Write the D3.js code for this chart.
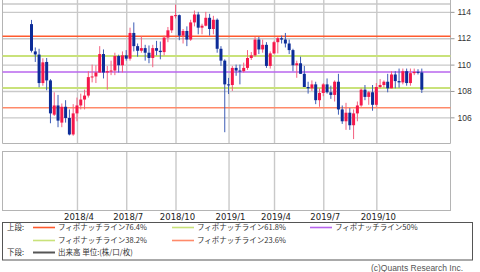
<!DOCTYPE html>
<html>
<head>
<meta charset="utf-8">
<script src="https://cdn.jsdelivr.net/npm/d3@7"></script>
<style>
  body { margin: 0; background: #fff; }
  svg { display: block; font-family: "Liberation Sans", Arial, sans-serif; }
</style>
</head>
<body>
<div id="chart"></div>
<script>
// weekly candles (week starting monday)
const weeks = [
  "2018-01-08","2018-01-15","2018-01-22","2018-01-29","2018-02-05","2018-02-12","2018-02-19","2018-02-26",
  "2018-03-05","2018-03-12","2018-03-19","2018-03-26","2018-04-02","2018-04-09","2018-04-16","2018-04-23",
  "2018-04-30","2018-05-07","2018-05-14","2018-05-21","2018-05-28","2018-06-04","2018-06-11","2018-06-18",
  "2018-06-25","2018-07-02","2018-07-09","2018-07-16","2018-07-23","2018-07-30","2018-08-06","2018-08-13",
  "2018-08-20","2018-08-27","2018-09-03","2018-09-10","2018-09-17","2018-09-24","2018-10-01","2018-10-08",
  "2018-10-15","2018-10-22","2018-10-29","2018-11-05","2018-11-12","2018-11-19","2018-11-26","2018-12-03",
  "2018-12-10","2018-12-17","2018-12-24","2018-12-31","2019-01-07","2019-01-14","2019-01-21","2019-01-28",
  "2019-02-04","2019-02-11","2019-02-18","2019-02-25","2019-03-04","2019-03-11","2019-03-18","2019-03-25",
  "2019-04-01","2019-04-08","2019-04-15","2019-04-22","2019-04-29","2019-05-06","2019-05-13","2019-05-20",
  "2019-05-27","2019-06-03","2019-06-10","2019-06-17","2019-06-24","2019-07-01","2019-07-08","2019-07-15",
  "2019-07-22","2019-07-29","2019-08-05","2019-08-12","2019-08-19","2019-08-26","2019-09-02","2019-09-09",
  "2019-09-16","2019-09-23","2019-09-30","2019-10-07","2019-10-14","2019-10-21","2019-10-28","2019-11-04",
  "2019-11-11","2019-11-18","2019-11-25","2019-12-02","2019-12-09","2019-12-16","2019-12-23","2019-12-30"
];
const opens = [
  113.07,111.0,110.76,108.6,110.2,108.8,106.2,106.9, 105.6,106.8,105.95,104.7,106.3,106.9,107.35,107.65,
  109.05,109.1,109.4,110.8,109.4,109.5,109.55,110.65, 109.95,110.7,110.45,112.4,111.4,111.05,111.25,110.9,
  110.5,111.25,111.05,110.95,112.05,112.6,113.7,113.75, 112.2,112.55,111.9,113.2,113.8,112.8,112.95,113.55,
  112.7,113.4,111.2,110.3,108.5,108.45,109.75,109.55, 109.5,109.75,110.5,110.7,111.9,111.15,111.5,109.9,
  110.85,111.7,112.0,111.9,111.6,111.1,109.95,110.1, 109.3,108.3,108.2,108.5,107.3,107.85,108.5,107.9,
  107.7,108.7,106.6,105.7,106.35,105.4,106.3,106.9, 108.1,107.55,107.9,106.95,108.3,108.45,108.7,108.2,
  109.25,108.75,108.65,109.5,108.6,109.35,109.45,109.4
];
const highs = [
  113.39,111.3,111.2,110.48,110.5,108.9,107.9,107.7, 107.05,107.3,106.6,107.0,107.5,107.8,108.1,109.5,
  110.0,109.95,111.4,111.15,109.9,110.3,110.9,110.75, 111.0,111.1,112.8,113.2,111.6,112.15,111.5,111.45,
  111.5,111.8,111.75,112.2,112.85,113.7,114.55,113.8, 112.7,112.9,113.4,114.1,114.0,113.1,114.0,113.85,
  113.7,113.5,111.4,110.4,108.99,109.9,110.0,110.0, 110.15,111.1,110.95,112.1,112.1,111.9,111.7,111.0,
  111.8,112.1,112.2,112.4,111.9,111.2,110.3,110.6, 109.9,108.7,108.8,108.7,108.2,108.6,108.95,108.4,
  108.8,109.3,106.9,107.1,106.7,106.6,107.2,108.2, 108.45,108.0,108.45,108.6,108.9,108.8,109.3,109.5,
  109.5,109.7,109.7,109.7,109.7,109.7,109.65,109.7
];
const lows = [
  110.92,110.2,108.28,108.4,108.05,105.55,106.1,105.25, 105.25,105.6,104.63,104.6,105.7,106.6,106.6,107.5,
  108.65,108.6,109.4,108.95,108.1,109.2,109.2,109.4, 109.4,110.3,110.3,111.0,110.6,110.9,110.3,110.1,
  109.8,110.7,110.4,110.7,111.7,112.4,113.5,111.85, 111.6,111.4,111.8,112.9,112.3,112.3,112.9,112.2,
  112.3,110.9,109.9,104.87,107.77,108.0,109.15,108.5, 109.4,109.6,110.35,110.6,110.8,110.9,109.75,109.7,
  110.8,110.85,111.6,111.3,110.8,109.5,109.0,109.3, 108.3,107.8,108.0,107.0,106.8,107.6,107.8,107.4,
  107.2,106.2,105.5,105.05,105.05,104.35,105.7,106.8, 107.3,106.95,106.5,106.8,108.2,108.25,107.9,108.2,
  108.2,108.25,108.5,108.4,108.4,109.2,109.25,107.85
];
const closes = [
  111.05,110.77,108.6,110.17,108.8,106.3,106.9,105.75, 106.8,105.95,104.7,106.3,106.9,107.35,107.65,109.05,
  109.1,109.4,110.8,109.4,109.5,109.55,110.65,109.95, 110.7,110.45,112.4,111.4,111.05,111.25,110.9,110.5,
  111.25,111.05,110.95,112.05,112.6,113.7,113.75,112.2, 112.55,111.9,113.2,113.8,112.8,112.95,113.55,112.7,
  113.4,111.2,110.3,108.5,108.45,109.75,109.55,109.5, 109.75,110.5,110.7,111.9,111.15,111.5,109.9,110.85,
  111.7,112.0,111.9,111.6,111.1,109.95,110.1,109.3, 108.3,108.2,108.5,107.3,107.85,108.5,107.9,107.7,
  108.7,106.6,105.7,106.35,105.4,106.3,106.9,108.1, 107.55,107.9,106.95,108.3,108.45,108.7,108.2,109.25,
  108.75,108.65,109.5,108.6,109.35,109.45,109.4,108.1
];

// fibonacci retracement levels
const fibNames = ["76.4%", "61.8%", "50%", "38.2%", "23.6%"];
const fibValues = [112.15, 110.65, 109.44, 108.23, 106.73];
const fibColors = ["#ff5a2e", "#c9e27a", "#b866ee", "#c9e27a", "#ff8a6a"];

const yTicks = [106, 108, 110, 112, 114];
const monthLabels = ["2018/4", "2018/7", "2018/10", "2019/1", "2019/4", "2019/7", "2019/10"];

const width = 480, height = 272;
const left = 2.5, right = 450.5;
const upTop = 4, upBottom = 143.5;
const lowTop = 151.5, lowBottom = 210.5;

const upColor = "#f5184b", downColor = "#0c2c98";
const upWick = "#f4607f", downWick = "#3d5cb6";
const gridColor = "#c9c9c9", borderColor = "#b4b4b4";

const svg = d3.select("#chart").append("svg")
    .attr("width", width)
    .attr("height", height);

// index scale, one slot per week
const x = d3.scaleLinear().domain([0, weeks.length - 1]).range([31.5, 421.8]);
const y = d3.scaleLinear().domain([104.03, 114.9]).range([143.3, 0]);

// first week that starts inside each labelled month
const parse = d3.timeParse("%Y-%m-%d");
const weekDates = weeks.map(parse);
const tickIdx = monthLabels.map(function (lab) {
    const parts = lab.split("/");
    return weekDates.findIndex(function (d) {
        return d.getFullYear() === +parts[0] && d.getMonth() + 1 === +parts[1];
    });
});

// horizontal grid
svg.append("g")
    .attr("transform", "translate(" + right + ",0)")
    .call(d3.axisLeft(y).tickValues(yTicks).tickSize(right - left).tickFormat(""))
    .call(g => g.select(".domain").remove())
    .selectAll("line").attr("stroke", gridColor).attr("stroke-width", 1.4);

svg.append("line")
    .attr("x1", left).attr("x2", right)
    .attr("y1", upTop).attr("y2", upTop)
    .attr("stroke", gridColor).attr("stroke-width", 1.4);

// vertical grid, upper and lower panel
svg.append("g")
    .attr("transform", "translate(0," + upBottom + ")")
    .call(d3.axisBottom(x).tickValues(tickIdx).tickSize(-upBottom).tickFormat(""))
    .call(g => g.select(".domain").remove())
    .selectAll("line").attr("stroke", gridColor).attr("stroke-width", 1.4);

svg.append("g")
    .attr("transform", "translate(0," + lowBottom + ")")
    .call(d3.axisBottom(x).tickValues(tickIdx).tickSize(-(lowBottom - lowTop)).tickFormat(""))
    .call(g => g.select(".domain").remove())
    .selectAll("line").attr("stroke", gridColor).attr("stroke-width", 1.4);

// panel borders
svg.append("path")
    .attr("d", "M" + left + ",0V" + upBottom + "H" + right + "V0")
    .attr("fill", "none").attr("stroke", borderColor);
svg.append("rect")
    .attr("x", left).attr("y", lowTop)
    .attr("width", right - left).attr("height", lowBottom - lowTop)
    .attr("fill", "none").attr("stroke", borderColor);

// fibonacci lines
svg.append("g").selectAll("line")
    .data(fibValues)
    .join("line")
    .attr("x1", left).attr("x2", right)
    .attr("y1", d => y(d)).attr("y2", d => y(d))
    .attr("stroke", (d, i) => fibColors[i])
    .attr("stroke-width", (d, i) => (i === 1 || i === 3) ? 2 : 1.5);

// candles
const candles = svg.append("g").selectAll("g")
    .data(weeks.map((w, i) => ({ i: i, o: opens[i], h: highs[i], l: lows[i], c: closes[i] })))
    .join("g");

candles.append("line")
    .attr("x1", d => x(d.i)).attr("x2", d => x(d.i))
    .attr("y1", d => y(d.h)).attr("y2", d => y(d.l))
    .attr("stroke", d => d.c >= d.o ? upWick : downWick)
    .attr("stroke-width", 1);

candles.append("rect")
    .attr("x", d => x(d.i) - 1.5)
    .attr("width", 3)
    .attr("y", d => y(Math.max(d.o, d.c)))
    .attr("height", d => Math.max(1, Math.abs(y(d.o) - y(d.c))))
    .attr("fill", d => d.c >= d.o ? upColor : downColor);

// price axis on the right
svg.append("g")
    .attr("transform", "translate(" + right + ",0)")
    .call(d3.axisRight(y).tickValues(yTicks).tickSize(4).tickPadding(3))
    .call(g => g.select(".domain").remove())
    .call(g => g.selectAll("line").attr("stroke", "#999"))
    .call(g => g.selectAll("text").attr("fill", "#333")
        .style("font-size", "8.5px").style("font-family", "'Liberation Sans', Arial, sans-serif"));

// month labels under lower panel
svg.append("g")
    .attr("transform", "translate(1.5," + lowBottom + ")")
    .call(d3.axisBottom(x).tickValues(tickIdx).tickSize(0).tickPadding(3)
        .tickFormat((d, i) => monthLabels[i]))
    .call(g => g.select(".domain").remove())
    .call(g => g.selectAll("text").attr("fill", "#222")
        .style("font-size", "8.5px").style("font-family", "'DejaVu Sans', sans-serif"));

// legend
const legendFont = "'Noto Sans CJK JP', sans-serif";
svg.append("rect")
    .attr("x", 2.5).attr("y", 222.5)
    .attr("width", 470).attr("height", 37.5)
    .attr("fill", "none").attr("stroke", "#555");

const legendItems = [
    { row: 0, col: 0, f: 0 },
    { row: 0, col: 1, f: 1 },
    { row: 0, col: 2, f: 2 },
    { row: 1, col: 0, f: 3 },
    { row: 1, col: 1, f: 4 }
];
const rowY = [227.5, 240.5, 252.5];
const colX = [33, 172, 310];

const leg = svg.append("g").style("font-family", legendFont).style("font-size", "7.5px").attr("fill", "#333");

leg.selectAll("line.fib")
    .data(legendItems)
    .join("line")
    .attr("class", "fib")
    .attr("x1", d => colX[d.col]).attr("x2", d => colX[d.col] + 22)
    .attr("y1", d => rowY[d.row]).attr("y2", d => rowY[d.row])
    .attr("stroke", d => fibColors[d.f]).attr("stroke-width", 1.6);

leg.selectAll("text.fib")
    .data(legendItems)
    .join("text")
    .attr("class", "fib")
    .attr("x", d => colX[d.col] + 25)
    .attr("y", d => rowY[d.row])
    .attr("dy", "0.35em")
    .text(d => "フィボナッチライン" + fibNames[d.f]);

leg.append("text").attr("x", 7).attr("y", rowY[0]).attr("dy", "0.35em").text("上段:");
leg.append("text").attr("x", 7).attr("y", rowY[2]).attr("dy", "0.35em").text("下段:");
leg.append("line")
    .attr("x1", 33).attr("x2", 55)
    .attr("y1", rowY[2]).attr("y2", rowY[2])
    .attr("stroke", "#555").attr("stroke-width", 2);
leg.append("text").attr("x", 58).attr("y", rowY[2]).attr("dy", "0.35em").text("出来高 単位:(株/口/枚)");

// credit
svg.append("text")
    .attr("x", 463).attr("y", 271)
    .attr("text-anchor", "end")
    .attr("fill", "#555")
    .style("font-size", "8.5px")
    .text("(c)Quants Research Inc.");
</script>
</body>
</html>
